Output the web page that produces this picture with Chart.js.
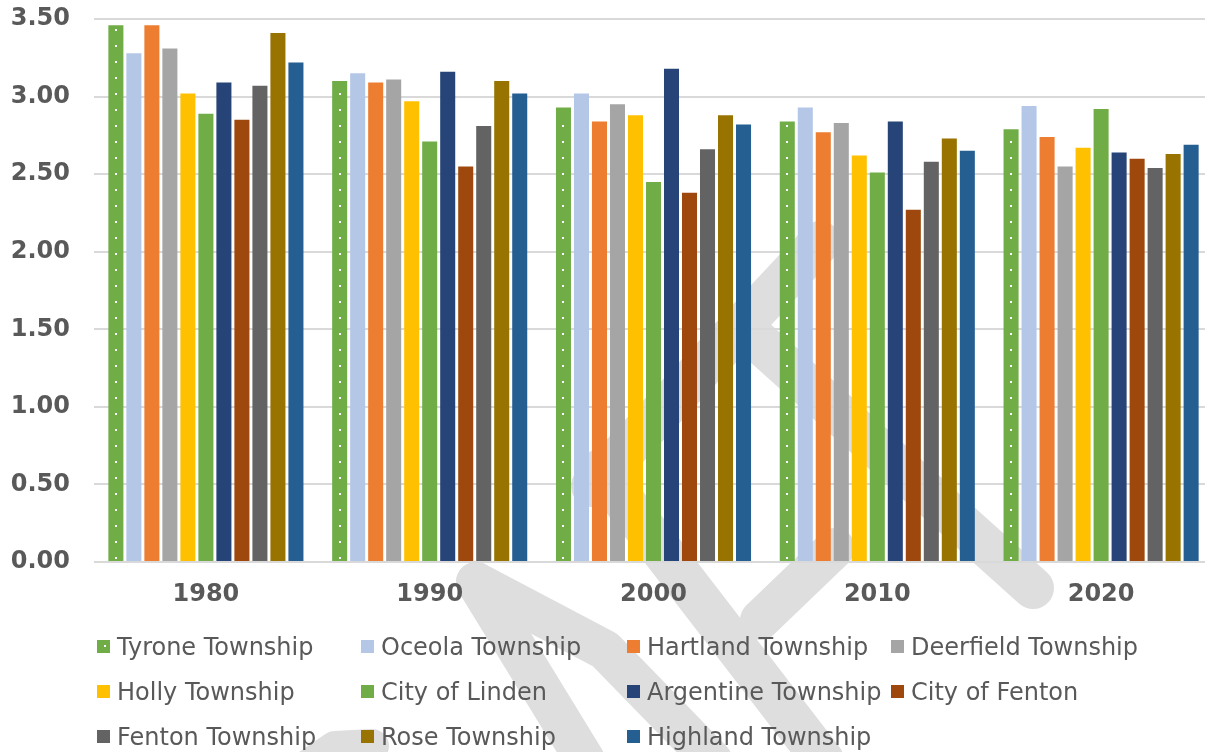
<!DOCTYPE html>
<html><head><meta charset="utf-8">
<script src="https://cdn.jsdelivr.net/npm/chart.js@4/dist/chart.umd.min.js"></script>
<style>
html,body{margin:0;padding:0;background:#fff;overflow:hidden;}
#wrap{position:relative;width:1213px;height:752px;}
#c{position:absolute;left:0;top:0;}
#legend{position:absolute;left:0;top:0;width:1205px;height:752px;pointer-events:none;}
.item{position:absolute;height:26px;font-family:'DejaVu Sans',Verdana,sans-serif;font-size:24px;color:#595959;white-space:nowrap;line-height:26px;}
.item .m{position:absolute;left:0;top:6px;width:13px;height:13px;}
.item .t{position:absolute;left:20px;top:0;}
</style></head>
<body>
<div id="wrap"><canvas id="c" width="1213" height="752"></canvas><div id="legend"></div></div>
<script>
const categories = ['1980','1990','2000','2010','2020'];
const seriesNames = ['Tyrone Township','Oceola Township','Hartland Township','Deerfield Township','Holly Township','City of Linden','Argentine Township','City of Fenton','Fenton Township','Rose Township','Highland Township'];
const tyrone     = [3.46,3.10,2.93,2.84,2.79];
const oceola     = [3.28,3.15,3.02,2.93,2.94];
const hartland   = [3.46,3.09,2.84,2.77,2.74];
const deerfield  = [3.31,3.11,2.95,2.83,2.55];
const holly      = [3.02,2.97,2.88,2.62,2.67];
const linden     = [2.89,2.71,2.45,2.51,2.92];
const argentine  = [3.09,3.16,3.18,2.84,2.64];
const cityFenton = [2.85,2.55,2.38,2.27,2.60];
const fentonTwp  = [3.07,2.81,2.66,2.58,2.54];
const rose       = [3.41,3.10,2.88,2.73,2.63];
const highland   = [3.22,3.02,2.82,2.65,2.69];
const yTicks = [0,0.5,1,1.5,2,2.5,3,3.5];

const seriesValues = [tyrone,oceola,hartland,deerfield,holly,linden,argentine,cityFenton,fentonTwp,rose,highland];
const colors = ['#70ad47','#b4c7e7','#ed7d31','#a5a5a5','#ffc000','#70ad47','#264478','#9e480e','#636363','#997300','#255e91'];

// decorative background watermark strokes (not data)
const watermark = [
  {w:42, p:[[592,486],[820,242]]},
  {w:42, p:[[748,332],[1033,588]]},
  {w:42, p:[[600,470],[823,760]]},
  {w:40, p:[[476,582],[585,760]]},
  {w:40, p:[[476,582],[605,650],[712,760]]},
  {w:40, p:[[760,620],[835,548]]},
  {w:34, p:[[300,772],[335,748],[372,746]]}
];

const watermarkPlugin = {
  id:'watermark',
  beforeDraw(chart){
    const ctx = chart.ctx;
    ctx.save();
    ctx.strokeStyle = '#dedede';
    ctx.lineCap = 'round';
    ctx.lineJoin = 'round';
    watermark.forEach(s=>{
      const p = s.p;
      ctx.lineWidth = s.w;
      ctx.beginPath();
      ctx.moveTo(p[0][0],p[0][1]);
      for(let i=1;i<p.length;i++) ctx.lineTo(p[i][0],p[i][1]);
      ctx.stroke();
    });
    ctx.restore();
  }
};

const dotsPlugin = {
  id:'dots',
  afterDatasetDraw(chart,args){
    if(args.index!==0) return;
    const ctx = chart.ctx;
    const meta = chart.getDatasetMeta(0);
    ctx.save();
    ctx.fillStyle = '#ffffff';
    meta.data.forEach(el=>{
      const cx = Math.round(el.x);
      for(let yy = el.base - 3; yy > el.y + 4; yy -= 16){
        ctx.fillRect(cx-1, Math.round(yy)-1, 2, 2);
      }
    });
    ctx.restore();
  }
};

const datasets = seriesNames.map((n,i)=>({
  label:n,
  data:seriesValues[i],
  backgroundColor:colors[i],
  borderWidth:0,
  categoryPercentage:0.885,
  barPercentage:0.835
}));

new Chart(document.getElementById('c'),{
  type:'bar',
  data:{labels:categories,datasets},
  options:{
    responsive:false,
    animation:false,
    devicePixelRatio:1,
    layout:{padding:{top:19,right:0,left:0,bottom:0}},
    plugins:{legend:{display:false},tooltip:{enabled:false}},
    scales:{
      x:{
        grid:{display:false},
        border:{display:false},
        ticks:{font:{family:'DejaVu Sans',size:24,weight:'bold'},color:'#595959',padding:10},
        afterFit(s){s.height=190;s.paddingLeft=0;s.paddingRight=0;}
      },
      y:{
        min:0,max:3.5,
        afterBuildTicks(s){s.ticks = yTicks.map(v=>({value:v}));},
        grid:{color:'#d9d9d9',lineWidth:2,drawTicks:false},
        border:{display:false},
        ticks:{font:{family:'DejaVu Sans',size:24,weight:'bold'},color:'#595959',padding:24,callback:v=>Number(v).toFixed(2)},
        afterFit(s){s.width=94;s.paddingTop=0;s.paddingBottom=0;}
      }
    }
  },
  plugins:[watermarkPlugin,dotsPlugin]
});

// HTML legend
const colX = [97,361,627,891];
const rowY = [634,679,724];
const leg = document.getElementById('legend');
seriesNames.forEach((n,i)=>{
  const r = Math.floor(i/4), c = i%4;
  const d = document.createElement('div');
  d.className='item';
  d.style.left = colX[c]+'px';
  d.style.top = rowY[r]+'px';
  const m = document.createElement('span');
  m.className='m';
  m.style.background = colors[i];
  if(i===0){ m.style.backgroundImage='radial-gradient(circle at 8px 6px,#fff 0,#fff 1px,transparent 1.3px)'; }
  const t = document.createElement('span');
  t.className='t';
  t.textContent = n;
  d.appendChild(m); d.appendChild(t);
  leg.appendChild(d);
});
</script>
</body></html>
